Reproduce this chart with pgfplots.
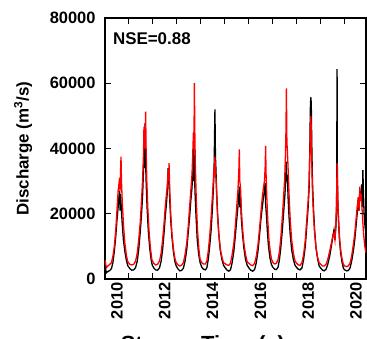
\documentclass[border=0pt]{standalone}
\usepackage{fontspec}
\setmainfont{Liberation Sans}
\usepackage{graphicx}
\usepackage{pgfplots}
\pgfplotsset{compat=1.18}
\newcommand{\yl}[1]{\rotatebox{90}{\bfseries\fontsize{16.5}{19}\selectfont #1}}
\pgfplotsset{
 every y tick label/.append style={font=\bfseries\fontsize{16.5}{19}\selectfont},
}
\begin{document}
\begin{tikzpicture}
\begin{axis}[
 name=ax,
 scale only axis, width=261bp, height=261bp,
 xmin=2010, xmax=2020.92, ymin=0, ymax=80000,
 axis line style={line width=1.1bp},
 unbounded coords=jump,
 xtick={2010.5,2012.5,2014.5,2016.5,2018.5,2020.5},
 xticklabels={\yl{2010},\yl{2012},\yl{2014},\yl{2016},\yl{2018},\yl{2020}},
 major tick length=0pt,
 ytick={0,20000,40000,60000,80000},
 scaled y ticks=false,
 yticklabel={\pgfmathprintnumber[assume math mode=true,1000 sep={}]{\tick}},
 yticklabel style={xshift=-6bp},
 ylabel={Discharge (m\textsuperscript{3}/s)},
 ylabel style={at={(axis description cs:-0.314,0.5)}, anchor=center, font=\bfseries\fontsize{17}{20}\selectfont},
 xlabel={Stream Time (a)},
 xlabel style={at={(axis description cs:0.375,-0.218)}, anchor=north, inner sep=0pt, font=\bfseries\fontsize{22}{26}\selectfont},
]
\addplot[black, line width=1.3bp] coordinates {
(2010.00,4300)(2010.03,3000)(2010.06,1900)(2010.12,2300)(2010.20,2600)(2010.27,3200)(2010.33,5000)(2010.39,8500)(2010.45,13000)(2010.50,18000)(2010.55,22000)(2010.58,25000)(2010.61,27000)(2010.63,21000)(2010.65,26000)(2010.68,22000)(2010.72,17000)(2010.77,12000)(2010.83,8500)(2010.90,5500)(2010.96,4000)
(2011.04,3200)(2011.12,2700)(2011.20,2800)(2011.28,3500)(2011.35,5500)(2011.41,9000)(2011.47,14000)(2011.52,19000)(2011.57,25000)(2011.61,33000)(2011.64,40000)(2011.66,34000)(2011.68,47800)(2011.70,36000)(2011.72,30000)(2011.76,22000)(2011.81,15000)(2011.87,9500)(2011.93,6000)(2011.98,4200)
(2012.05,3300)(2012.12,2800)(2012.20,2700)(2012.28,3400)(2012.35,5500)(2012.41,9000)(2012.47,14000)(2012.52,19000)(2012.57,23000)(2012.61,27000)(2012.64,34000)(2012.66,29000)(2012.68,31000)(2012.71,24000)(2012.75,18000)(2012.80,13000)(2012.86,8500)(2012.92,5500)(2012.98,4000)
(2013.06,3000)(2013.13,2500)(2013.20,2600)(2013.28,3300)(2013.35,5500)(2013.42,9000)(2013.48,14000)(2013.54,19000)(2013.59,24000)(2013.64,28000)(2013.68,35000)(2013.70,30000)(2013.72,41000)(2013.74,33000)(2013.77,26000)(2013.81,19000)(2013.86,12000)(2013.92,7500)(2013.98,5000)
(2014.05,3600)(2014.12,3000)(2014.20,2800)(2014.26,3400)(2014.32,6000)(2014.38,10000)(2014.44,15000)(2014.49,21000)(2014.53,27000)(2014.56,32000)(2014.58,42000)(2014.60,52000)(2014.62,38000)(2014.64,34000)(2014.67,27000)(2014.71,20000)(2014.76,14000)(2014.82,9000)(2014.89,6000)(2014.96,4200)
(2015.04,3300)(2015.11,2700)(2015.18,2400)(2015.25,2800)(2015.32,5000)(2015.39,8500)(2015.45,13000)(2015.51,18000)(2015.56,22000)(2015.60,26000)(2015.62,28300)(2015.64,22000)(2015.67,25000)(2015.70,19000)(2015.75,14000)(2015.81,9500)(2015.88,6000)(2015.95,4200)
(2016.03,3300)(2016.10,2700)(2016.18,2400)(2016.26,2900)(2016.33,5000)(2016.40,8500)(2016.46,13000)(2016.52,18000)(2016.58,22000)(2016.63,25000)(2016.67,27000)(2016.70,29400)(2016.72,23000)(2016.75,20000)(2016.79,15000)(2016.84,10000)(2016.90,6500)(2016.96,4500)
(2017.03,3500)(2017.10,3000)(2017.17,2900)(2017.24,3600)(2017.30,6000)(2017.36,10000)(2017.42,15000)(2017.47,20000)(2017.52,25000)(2017.56,30000)(2017.58,36000)(2017.60,30000)(2017.63,32000)(2017.66,25000)(2017.70,19000)(2017.75,13500)(2017.81,9000)(2017.88,6000)(2017.95,4200)
(2018.02,3500)(2018.09,3000)(2018.16,2800)(2018.24,3400)(2018.31,6000)(2018.38,10000)(2018.44,16000)(2018.50,22000)(2018.54,28000)(2018.57,40000)(2018.59,52000)(2018.61,55700)(2018.63,54000)(2018.65,42000)(2018.68,30000)(2018.72,22000)(2018.77,15000)(2018.83,9500)(2018.90,6000)(2018.96,4000)
(2019.03,3300)(2019.10,2700)(2019.17,2500)(2019.25,3000)(2019.32,4500)(2019.40,7000)(2019.47,10000)(2019.53,13000)(2019.58,15000)(2019.62,12000)(2019.66,16000)(2019.69,22000)(2019.71,64300)(2019.72,35000)(2019.74,24000)(2019.77,18000)(2019.81,12000)(2019.86,8000)(2019.92,5000)(2019.98,3200)
(2020.03,2800)(2020.10,2500)(2020.18,2600)(2020.25,3300)(2020.32,5500)(2020.39,8500)(2020.45,12000)(2020.50,16000)(2020.55,20000)(2020.60,25000)(2020.63,21000)(2020.66,27000)(2020.70,24000)(2020.74,29000)(2020.77,22000)(2020.79,33400)(2020.81,27000)(2020.84,20000)(2020.88,16000)(2020.92,14000)
};
\addplot[red, line width=1.3bp] coordinates {
(2010.00,5800)(2010.03,4500)(2010.06,3500)(2010.12,4000)(2010.20,4500)(2010.27,5000)(2010.33,7000)(2010.39,10000)(2010.45,15000)(2010.50,21000)(2010.55,27000)(2010.58,29000)(2010.61,31000)(2010.63,27000)(2010.65,33000)(2010.67,37500)(2010.69,30000)(2010.72,24000)(2010.77,17000)(2010.83,11000)(2010.90,7000)(2010.96,5200)
(2011.04,4500)(2011.12,4300)(2011.20,4500)(2011.28,5500)(2011.35,8000)(2011.41,12000)(2011.47,17000)(2011.52,23000)(2011.57,30000)(2011.61,38000)(2011.63,46700)(2011.65,40000)(2011.67,47000)(2011.69,42000)(2011.70,51300)(2011.72,40000)(2011.75,30000)(2011.79,22000)(2011.84,15000)(2011.90,9500)(2011.96,6000)
(2012.04,4800)(2012.12,4300)(2012.20,4500)(2012.28,5500)(2012.35,8000)(2012.41,12000)(2012.47,17000)(2012.52,22000)(2012.57,26000)(2012.61,29000)(2012.64,33000)(2012.66,30000)(2012.68,35500)(2012.71,27000)(2012.75,20000)(2012.80,14000)(2012.86,9500)(2012.92,6500)(2012.98,5000)
(2013.06,4300)(2013.13,4000)(2013.20,4200)(2013.28,5000)(2013.35,7500)(2013.42,11000)(2013.48,16000)(2013.54,22000)(2013.59,27000)(2013.64,32000)(2013.67,38000)(2013.70,45000)(2013.72,40000)(2013.74,60000)(2013.76,44000)(2013.78,35000)(2013.82,24000)(2013.87,15000)(2013.93,9000)(2013.98,6000)
(2014.05,5000)(2014.12,4600)(2014.20,4600)(2014.26,5500)(2014.32,8500)(2014.38,13000)(2014.44,19000)(2014.49,25000)(2014.53,30000)(2014.56,34000)(2014.58,32000)(2014.60,37500)(2014.62,33000)(2014.65,30000)(2014.68,24000)(2014.72,18000)(2014.77,13000)(2014.83,9000)(2014.90,6500)(2014.96,5000)
(2015.04,4600)(2015.11,4300)(2015.18,4200)(2015.25,4800)(2015.32,7500)(2015.39,11000)(2015.45,16000)(2015.51,22000)(2015.56,27000)(2015.60,33000)(2015.62,39700)(2015.64,30000)(2015.67,28000)(2015.70,22000)(2015.75,16000)(2015.81,11000)(2015.88,7500)(2015.95,5200)
(2016.03,4800)(2016.10,4300)(2016.18,4100)(2016.26,4800)(2016.33,7000)(2016.40,10500)(2016.46,15000)(2016.52,20000)(2016.58,25000)(2016.63,28000)(2016.67,30000)(2016.70,34000)(2016.72,40800)(2016.74,32000)(2016.77,25000)(2016.81,18000)(2016.86,12000)(2016.92,8000)(2016.97,6000)
(2017.03,5000)(2017.10,4600)(2017.17,4800)(2017.24,6000)(2017.30,8500)(2017.36,13000)(2017.42,19000)(2017.47,25000)(2017.52,31000)(2017.55,38000)(2017.57,45000)(2017.59,58400)(2017.61,42000)(2017.63,39500)(2017.66,34000)(2017.70,26000)(2017.75,18000)(2017.81,12000)(2017.88,8000)(2017.95,5500)
(2018.02,4800)(2018.09,4300)(2018.16,4200)(2018.24,5000)(2018.31,7500)(2018.38,12000)(2018.44,18000)(2018.50,24000)(2018.54,30000)(2018.57,38000)(2018.59,44000)(2018.61,50000)(2018.63,46000)(2018.65,36000)(2018.68,27000)(2018.72,20000)(2018.77,14000)(2018.83,9500)(2018.90,6500)(2018.96,5000)
(2019.03,4500)(2019.10,4000)(2019.17,4000)(2019.25,4500)(2019.32,6000)(2019.40,8500)(2019.47,11000)(2019.53,13000)(2019.58,14000)(2019.62,12000)(2019.66,17000)(2019.69,24000)(2019.71,35500)(2019.73,27000)(2019.76,20000)(2019.80,14000)(2019.85,9500)(2019.91,6500)(2019.97,4500)
(2020.03,4000)(2020.10,3800)(2020.18,4000)(2020.25,4800)(2020.32,7000)(2020.39,10500)(2020.45,14000)(2020.50,18000)(2020.55,22000)(2020.60,25000)(2020.63,21000)(2020.66,28300)(2020.69,24000)(2020.72,26000)(2020.75,22000)(2020.79,17000)(2020.83,13000)(2020.87,10000)(2020.92,8000)
};
% tick marks (year ticks on bottom and top, value ticks on both sides)
\addplot[black, line width=1bp, forget plot] coordinates {
(2011,0)(2011,1840)(2011,nan)(2012,0)(2012,1840)(2012,nan)(2013,0)(2013,1840)(2013,nan)(2014,0)(2014,1840)(2014,nan)(2015,0)(2015,1840)(2015,nan)
(2016,0)(2016,1840)(2016,nan)(2017,0)(2017,1840)(2017,nan)(2018,0)(2018,1840)(2018,nan)(2019,0)(2019,1840)(2019,nan)(2020,0)(2020,1840)(2020,nan)
(2011,80000)(2011,78160)(2011,nan)(2012,80000)(2012,78160)(2012,nan)(2013,80000)(2013,78160)(2013,nan)(2014,80000)(2014,78160)(2014,nan)(2015,80000)(2015,78160)(2015,nan)
(2016,80000)(2016,78160)(2016,nan)(2017,80000)(2017,78160)(2017,nan)(2018,80000)(2018,78160)(2018,nan)(2019,80000)(2019,78160)(2019,nan)(2020,80000)(2020,78160)(2020,nan)
(2010,20000)(2010.25,20000)(2010.25,nan)(2010,40000)(2010.25,40000)(2010.25,nan)(2010,60000)(2010.25,60000)(2010.25,nan)
(2020.92,20000)(2020.67,20000)(2020.67,nan)(2020.92,40000)(2020.67,40000)(2020.67,nan)(2020.92,60000)(2020.67,60000)
};
\node[anchor=west, font=\bfseries\fontsize{17}{20}\selectfont, inner sep=0pt] at (axis description cs:0.03,0.92) {NSE=0.88};
\end{axis}
\pgfresetboundingbox
\path[use as bounding box] ([xshift=-105bp,yshift=-60bp]ax.south west) rectangle ([xshift=1bp,yshift=18bp]ax.north east);
\end{tikzpicture}
\end{document}
